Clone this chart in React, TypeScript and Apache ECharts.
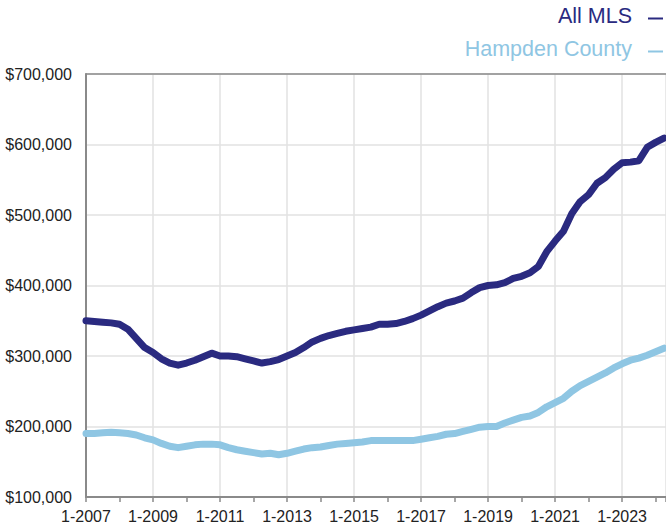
import React, { useEffect, useRef } from "react";
import * as echarts from "echarts";

// Quarterly sample dates (decimal years)
const dates: number[] = [
  2007.0, 2007.25, 2007.5, 2007.75, 2008.0, 2008.25, 2008.5, 2008.75,
  2009.0, 2009.25, 2009.5, 2009.75, 2010.0, 2010.25, 2010.5, 2010.75,
  2011.0, 2011.25, 2011.5, 2011.75, 2012.0, 2012.25, 2012.5, 2012.75,
  2013.0, 2013.25, 2013.5, 2013.75, 2014.0, 2014.25, 2014.5, 2014.75,
  2015.0, 2015.25, 2015.5, 2015.75, 2016.0, 2016.25, 2016.5, 2016.75,
  2017.0, 2017.25, 2017.5, 2017.75, 2018.0, 2018.25, 2018.5, 2018.75,
  2019.0, 2019.25, 2019.5, 2019.75, 2020.0, 2020.25, 2020.5, 2020.75,
  2021.0, 2021.25, 2021.5, 2021.75, 2022.0, 2022.25, 2022.5, 2022.75,
  2023.0, 2023.25, 2023.5, 2023.75, 2024.0, 2024.25,
];

// All MLS median price (thousands $)
const allMls: number[] = [
  350, 349, 348, 347, 345, 338, 325, 312,
  305, 296, 290, 287, 290, 294, 299, 304,
  300, 300, 299, 296, 293, 290, 292, 295,
  300, 305, 312, 320, 325, 329, 332, 335,
  337, 339, 341, 345, 345, 346, 349, 353,
  358, 364, 370, 375, 378, 382, 390, 397,
  400, 401, 404, 410, 413, 418, 427, 448,
  463, 477, 502, 519, 529, 545, 553, 565,
  574, 575, 577, 596, 603, 609,
];

// Hampden County median price (thousands $)
const hampden: number[] = [
  190, 190, 191, 192, 191, 190, 188, 184,
  181, 176, 172, 170, 172, 174, 175, 175,
  174, 170, 167, 165, 163, 161, 162, 160,
  162, 165, 168, 170, 171, 173, 175, 176,
  177, 178, 180, 180, 180, 180, 180, 180,
  182, 184, 186, 189, 190, 193, 196, 199,
  200, 200, 205, 209, 213, 215, 220, 228,
  234, 240, 250, 258, 264, 270, 276, 283,
  289, 294, 297, 301, 306, 311,
];

const seriesNames = ["All MLS", "Hampden County"];
const seriesColors = ["#2a2a80", "#8fc6e3"];

const FONT = "Liberation Sans, Arial, Helvetica, sans-serif";

export default function App() {
  const ref = useRef<HTMLDivElement>(null);

  useEffect(() => {
    if (!ref.current) return;
    const chart = echarts.init(ref.current, undefined, { renderer: "svg" });
    const xMin = 2007;
    const xMax = 2024.31;
    const axisGray = "#8a8a8a";
    const gridGray = "#e2e2e2";

    chart.setOption({
      animation: false,
      textStyle: { fontFamily: FONT },
      grid: { left: 86, right: 0, top: 74, bottom: 28, containLabel: false },
      xAxis: [
        {
          type: "value",
          min: xMin,
          max: xMax,
          interval: 2,
          position: "bottom",
          axisLine: { show: true, lineStyle: { color: axisGray, width: 2 } },
          axisTick: { show: false },
          splitLine: { show: true, lineStyle: { color: gridGray, width: 1.5 } },
          axisLabel: {
            show: true,
            margin: 11,
            color: "#222",
            fontSize: 16,
            fontFamily: FONT,
            showMaxLabel: false,
            formatter: (v: number) =>
              Math.abs(v - Math.round(v)) < 1e-6 ? "1-" + Math.round(v) : "",
          },
        },
        {
          type: "value",
          min: xMin,
          max: xMax,
          interval: 1,
          position: "bottom",
          axisLine: { show: false },
          axisTick: {
            show: true,
            inside: false,
            length: 5,
            lineStyle: { color: axisGray, width: 1.5 },
          },
          splitLine: { show: false },
          axisLabel: { show: false },
        },
        {
          type: "value",
          min: xMin,
          max: xMax,
          position: "top",
          axisLine: { show: true, lineStyle: { color: axisGray, width: 1.5 } },
          axisTick: { show: false },
          splitLine: { show: false },
          axisLabel: { show: false },
        },
      ],
      yAxis: {
        type: "value",
        min: 100,
        max: 700,
        interval: 100,
        axisLine: { show: true, lineStyle: { color: axisGray, width: 2 } },
        axisTick: { show: false },
        splitLine: { show: true, lineStyle: { color: gridGray, width: 1.5 } },
        axisLabel: {
          margin: 14,
          color: "#222",
          fontSize: 16,
          fontFamily: FONT,
          formatter: (v: number) => "$" + (v * 1000).toLocaleString("en-US"),
        },
      },
      series: [
        {
          name: seriesNames[1],
          type: "line",
          xAxisIndex: 0,
          showSymbol: false,
          data: dates.map((d, i) => [d, hampden[i]]),
          lineStyle: { color: seriesColors[1], width: 7, join: "round", cap: "round" },
          itemStyle: { color: seriesColors[1] },
        },
        {
          name: seriesNames[0],
          type: "line",
          xAxisIndex: 0,
          showSymbol: false,
          data: dates.map((d, i) => [d, allMls[i]]),
          lineStyle: { color: seriesColors[0], width: 7, join: "round", cap: "round" },
          itemStyle: { color: seriesColors[0] },
        },
      ],
      graphic: [
        {
          type: "text",
          right: 34,
          top: 5,
          style: {
            text: seriesNames[0],
            fill: seriesColors[0],
            font: `21.5px ${FONT}`,
          },
        },
        {
          type: "line",
          shape: { x1: 648, y1: 18.5, x2: 663, y2: 18.5 },
          style: { stroke: seriesColors[0], lineWidth: 2 },
        },
        {
          type: "text",
          right: 34,
          top: 38,
          style: {
            text: seriesNames[1],
            fill: seriesColors[1],
            font: `21.5px ${FONT}`,
          },
        },
        {
          type: "line",
          shape: { x1: 648, y1: 51.5, x2: 663, y2: 51.5 },
          style: { stroke: seriesColors[1], lineWidth: 2 },
        },
      ],
    });

    return () => chart.dispose();
  }, []);

  return (
    <div
      ref={ref}
      style={{ position: "fixed", left: 0, top: 0, width: 666, height: 525, background: "#fff" }}
    />
  );
}
